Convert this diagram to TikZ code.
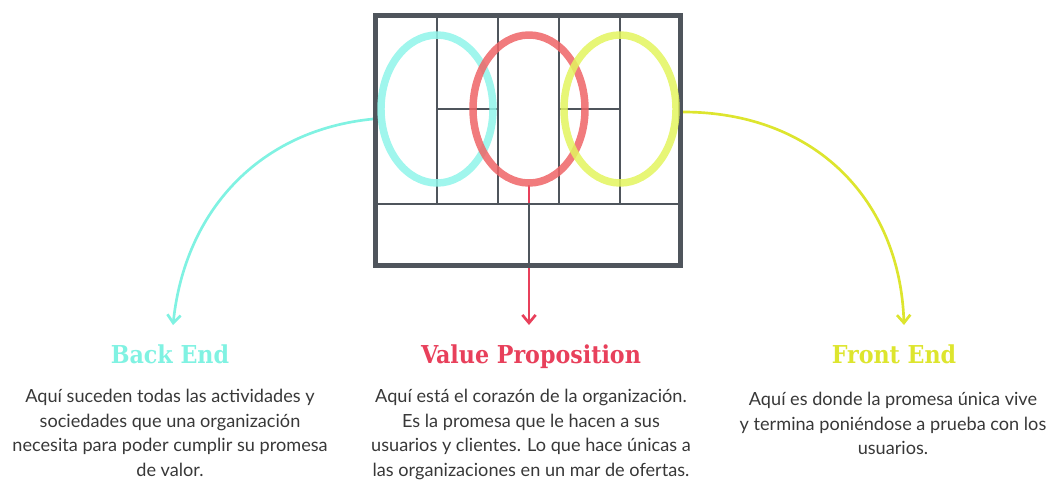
\documentclass[tikz,border=0pt]{standalone}
\usepackage{fontspec}
\setmainfont{Lato}
\newfontfamily\slabfont{DejaVu Serif Condensed}
\usetikzlibrary{arrows.meta,shapes.geometric}
\definecolor{framec}{HTML}{4F555C}
\definecolor{backc}{HTML}{80F2E2}
\definecolor{valuec}{HTML}{E8405B}
\definecolor{frontc}{HTML}{DDE52E}
\definecolor{bodyc}{HTML}{383838}
\definecolor{backring}{HTML}{8FF5EA}
\definecolor{valuering}{HTML}{EE6466}
\definecolor{frontring}{HTML}{E3F45E}

\begin{document}
\begin{tikzpicture}[x=0.75pt,y=-0.75pt, line join=miter,
    ring/.style={ellipse, draw, line width=5.6pt, inner sep=0pt, minimum width=84pt, minimum height=111pt, draw opacity=.85},
    link/.style={line width=2pt, -{Straight Barb[length=6pt,width=10pt]}},
    title/.style={font=\slabfont\bfseries\fontsize{18.5}{22}\selectfont, anchor=base},
    body/.style={font=\fontsize{13.6}{18.4}\selectfont, text=bodyc, align=center, anchor=north, inner sep=0pt}]
    \path[use as bounding box] (0,0) rectangle (1051,482);

    \coordinate (bs) at (373,119);
    \coordinate (be-tip) at (173,325);
    \coordinate (vp-tip) at (529,325);
    \coordinate (fs) at (683,112);
    \coordinate (fe-tip) at (904,325);

    % connectors
    \draw[link, backc] (bs) .. controls (260,130) and (185,210) .. (be-tip);
    \draw[link, valuec] (529,185) -- (vp-tip);
    \draw[link, frontc] (fs) .. controls (815,112) and (900,200) .. (fe-tip);

    % canvas
    \draw[framec, line width=3.75pt] (375.5,15.5) rectangle (680.5,265.5);
    \begin{scope}[framec, line width=2.1pt]
        \foreach \x in {437,498,559,620}
            \draw (\x,15.5) -- (\x,204);
        \draw (375.5,204) -- (680.5,204);
        \draw (529,204) -- (529,265.5);
        \draw (437,109) -- (498,109) (559,109) -- (620,109);
    \end{scope}

    \node[ring, draw=backring] (be) at (437,109) {};
    \node[ring, draw=valuering] (vp) at (529,109) {};
    \node[ring, draw=frontring] (fe) at (620,109) {};

    \node[title, text=backc] (bet) at (170,363) {Back End};
    \node[title, text=valuec] (vpt) at (531,363) {Value Proposition};
    \node[title, text=frontc] (fet) at (894,363) {Front End};

    \node[body] (beb) at (170,389) {Aquí suceden todas las actividades y\\sociedades que una organización\\necesita para poder cumplir su promesa\\de valor.};
    \node[body] (vpb) at (531,389) {Aquí está el corazón de la organización.\\Es la promesa que le hacen a sus\\usuarios y clientes. Lo que hace únicas a\\las organizaciones en un mar de ofertas.};
    \node[body] (feb) at (893,392) {Aquí es donde la promesa única vive\\y termina poniéndose a prueba con los\\usuarios.};
\end{tikzpicture}
\end{document}
